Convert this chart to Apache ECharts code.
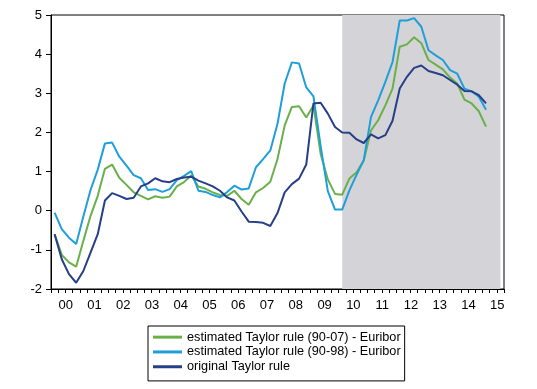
<!DOCTYPE html>
<html>
<head>
<meta charset="utf-8">
<script src="https://cdn.jsdelivr.net/npm/echarts@6/dist/echarts.min.js"></script>
<style>html,body{margin:0;padding:0;background:#fff}#c{width:537px;height:389px}</style>
</head>
<body>
<div id="c"></div>
<script>
// Quarterly categories 2000Q1 .. 2015Q3 (axis extent)
var years = ['00','01','02','03','04','05','06','07','08','09','10','11','12','13','14','15'];
var quarters = [];
for (var y = 2000; y <= 2015; y++) { for (var q = 1; q <= 4; q++) { if (y === 2015 && q > 3) break; quarters.push(y + 'Q' + q); } }

var shadeStart = '2010Q1';
var shadeEnd = '2015Q3';

// estimated Taylor rule (90-07) - Euribor
var est9007 = [-0.60,-1.13,-1.32,-1.43,-0.77,-0.13,0.38,1.07,1.18,0.84,0.66,0.47,0.38,0.29,0.37,0.33,0.36,0.62,0.73,0.90,0.62,0.56,0.47,0.40,0.38,0.51,0.30,0.15,0.47,0.58,0.74,1.32,2.18,2.65,2.67,2.38,2.69,1.45,0.80,0.43,0.41,0.82,0.98,1.28,2.05,2.31,2.69,3.12,4.19,4.25,4.43,4.28,3.85,3.73,3.61,3.40,3.25,2.84,2.74,2.54,2.15];
// estimated Taylor rule (90-98) - Euribor
var est9098 = [-0.05,-0.47,-0.69,-0.85,-0.15,0.53,1.05,1.72,1.74,1.38,1.15,0.91,0.83,0.53,0.55,0.48,0.55,0.78,0.89,1.01,0.51,0.48,0.40,0.34,0.48,0.64,0.54,0.57,1.11,1.32,1.54,2.22,3.25,3.79,3.76,3.15,2.92,1.65,0.50,0.03,0.03,0.52,0.92,1.30,2.39,2.82,3.29,3.80,4.86,4.86,4.92,4.70,4.10,3.97,3.85,3.59,3.50,3.12,3.05,2.91,2.58];
// original Taylor rule
var original = [-0.60,-1.24,-1.62,-1.84,-1.54,-1.07,-0.60,0.26,0.45,0.38,0.30,0.33,0.62,0.70,0.83,0.75,0.73,0.81,0.85,0.87,0.77,0.70,0.62,0.51,0.34,0.26,-0.02,-0.28,-0.29,-0.31,-0.39,-0.06,0.47,0.68,0.82,1.18,2.74,2.76,2.48,2.14,2.00,1.99,1.82,1.73,1.95,1.85,1.93,2.30,3.12,3.42,3.65,3.71,3.57,3.52,3.46,3.34,3.22,3.06,3.05,2.95,2.74];

var names = ['estimated Taylor rule (90-07) - Euribor','estimated Taylor rule (90-98) - Euribor','original Taylor rule'];
var colors = ['#6ab04a','#1f9fd9','#263f88'];
var font = 'Liberation Sans, Arial, sans-serif';

var chart = echarts.init(document.getElementById('c'), null, {renderer:'canvas'});
chart.setOption({
  animation: false,
  backgroundColor: '#fff',
  color: colors,
  grid: {left: 51, right: 33, top: 15, bottom: 100, show: true, borderColor: '#000', borderWidth: 1, backgroundColor: 'transparent'},
  legend: {
    orient: 'vertical', left: 148, top: 326,
    data: names,
    icon: 'rect', itemWidth: 29, itemHeight: 3, itemGap: 0.5,
    padding: [4, 4, 7, 5],
    borderColor: '#000', borderWidth: 1,
    textStyle: {color: '#000', fontSize: 12.7, fontFamily: font, lineHeight: 14.3}
  },
  xAxis: [
    {type: 'category', data: quarters, boundaryGap: true, show: false},
    {type: 'value', min: 0, max: quarters.length, interval: 1, position: 'bottom',
     axisLine: {show: true, lineStyle: {color: '#000', width: 1}},
     axisTick: {show: true, length: 4, lineStyle: {color: '#000'}},
     splitLine: {show: false},
     axisLabel: {show: true, color: '#000', fontSize: 13, fontFamily: font, margin: 10,
       padding: [0, 0, 0, 29.5],
       formatter: function (v) { return (v % 4 === 0 && v / 4 < years.length) ? years[v / 4] : ''; }}
    }
  ],
  yAxis: {type: 'value', min: -2, max: 5, interval: 1,
    axisLine: {show: true, lineStyle: {color: '#000', width: 1}},
    axisTick: {show: true, length: 5, lineStyle: {color: '#000'}},
    splitLine: {show: false},
    axisLabel: {color: '#000', fontSize: 13, fontFamily: font, margin: 9}
  },
  series: [
    {name: names[0], type: 'line', xAxisIndex: 0, data: est9007, showSymbol: false, lineStyle: {width: 2}, z: 3,
     markArea: {silent: true, itemStyle: {color: '#d4d3d7'}, data: [[{xAxis: shadeStart}, {xAxis: shadeEnd}]]}},
    {name: names[1], type: 'line', xAxisIndex: 0, data: est9098, showSymbol: false, lineStyle: {width: 2}, z: 4},
    {name: names[2], type: 'line', xAxisIndex: 0, data: original, showSymbol: false, lineStyle: {width: 2}, z: 5}
  ]
});
</script>
</body>
</html>
